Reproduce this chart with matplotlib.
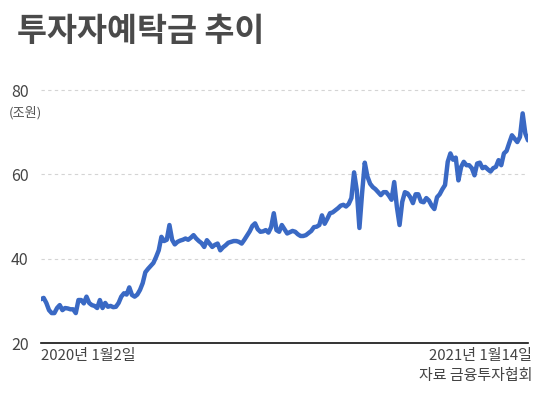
import matplotlib

matplotlib.use("Agg")
import matplotlib.pyplot as plt
import numpy as np
import pandas as pd

plt.rcParams["font.family"] = ["Noto Sans CJK KR", "DejaVu Sans"]

# ---- data (조원) ----
start_date = "2020-01-02"
end_date = "2021-01-14"
deposits = [
    30.4, 30.7, 29.5, 27.8, 27.1, 27.1, 28.3, 29.0, 27.8, 28.3,
    28.2, 28.0, 28.0, 27.1, 30.2, 30.2, 29.4, 31.0, 29.5, 29.0,
    28.8, 28.3, 30.2, 28.3, 29.5, 28.6, 28.8, 28.5, 28.6, 29.5,
    31.0, 31.8, 31.5, 33.2, 31.4, 31.0, 31.5, 32.6, 34.2, 36.8,
    37.6, 38.3, 39.0, 40.4, 42.0, 45.2, 44.2, 44.5, 48.0, 44.5,
    43.4, 44.0, 44.3, 44.5, 44.8, 44.5, 45.0, 45.6, 44.8, 44.2,
    43.7, 42.8, 44.4, 43.6, 42.8, 43.3, 43.6, 42.0, 42.7, 43.2,
    43.8, 44.0, 44.2, 44.2, 44.0, 43.6, 44.5, 45.5, 46.5, 47.8,
    48.4, 47.0, 46.4, 46.5, 46.8, 46.2, 47.5, 50.8, 46.8, 46.4,
    48.0, 47.0, 46.0, 46.3, 46.6, 46.4, 45.8, 45.4, 45.4, 45.6,
    46.1, 46.6, 47.5, 47.6, 48.0, 50.3, 48.3, 49.5, 50.8, 51.0,
    51.5, 52.0, 52.6, 52.8, 52.4, 53.0, 54.4, 60.5, 56.3, 47.3,
    55.6, 62.8, 59.5, 57.8, 57.0, 56.5, 55.8, 55.1, 55.8, 55.8,
    55.0, 54.0, 58.2, 52.3, 48.0, 53.5, 55.8, 55.5, 54.6, 53.2,
    55.3, 55.3, 53.6, 53.4, 54.4, 53.8, 52.6, 51.8, 54.6, 55.3,
    56.5, 57.5, 63.0, 65.0, 63.5, 64.0, 58.6, 61.8, 63.0, 62.2,
    62.2, 61.5, 59.8, 62.6, 62.8, 61.5, 61.8, 61.2, 60.7, 61.5,
    61.8, 63.4, 62.2, 65.0, 65.6, 67.5, 69.3, 68.5, 67.7, 68.9,
    74.5, 69.7, 68.1,
]
y_ticks = [20, 40, 60, 80]

dates = pd.date_range(start_date, end_date, periods=len(deposits))

fig = plt.figure(figsize=(5.45, 3.97), dpi=100)
fig.patch.set_facecolor("white")
ax = fig.add_axes([41 / 545, 1 - 343 / 397, 487 / 545, 257 / 397])

ax.plot(dates, deposits, color="#3a69c4", linewidth=3.2, solid_joinstyle="round",
        solid_capstyle="round", zorder=3)

ax.set_xlim(dates[0], dates[-1])
ax.set_ylim(20, 81)
ax.set_yticks(y_ticks)
ax.set_xticks([])
ax.tick_params(axis="y", length=0, labelsize=11.5, labelcolor="#444444", pad=9)
for v in y_ticks[1:]:
    ax.axhline(v, color="#d4d4d4", linewidth=0.8, linestyle=(0, (3, 3)), zorder=1)
for side in ["top", "right", "left"]:
    ax.spines[side].set_visible(False)
ax.spines["bottom"].set_color("#111111")
ax.spines["bottom"].set_linewidth(1.2)
ax.patch.set_alpha(0)

fig.text(17 / 545, 1 - 32 / 397, "투자자예탁금 추이", fontsize=23.5, weight="bold",
         color="#4a4a4a", ha="left", va="center")
fig.text(9 / 545, 1 - 113 / 397, "(조원)", fontsize=9.5, color="#555555", ha="left", va="center")
fig.text(41 / 545, 1 - 356 / 397, "2020년 1월2일", fontsize=10.8, color="#444444",
         ha="left", va="center")
fig.text(532 / 545, 1 - 356 / 397, "2021년 1월14일", fontsize=10.8, color="#444444",
         ha="right", va="center")
fig.text(532 / 545, 1 - 376 / 397, "자료 금융투자협회", fontsize=10.8, color="#444444",
         ha="right", va="center")

fig.savefig("out.png", dpi=100)
